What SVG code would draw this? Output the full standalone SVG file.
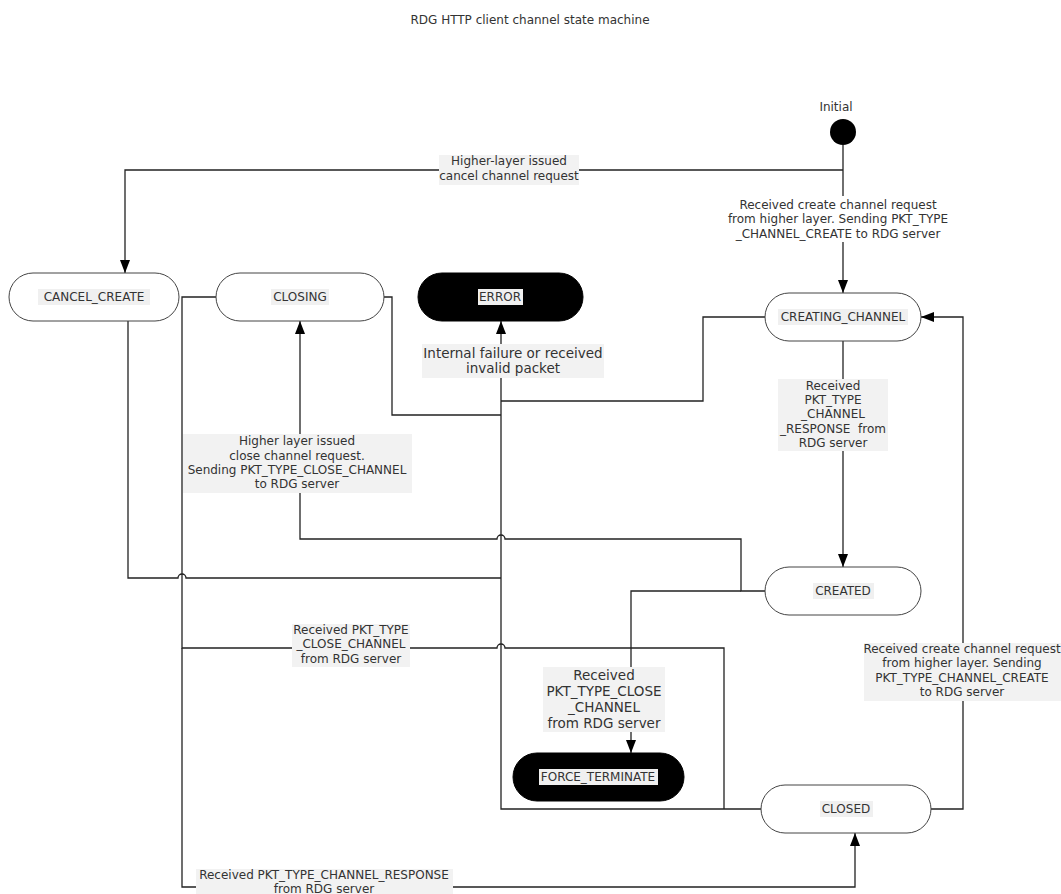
<svg xmlns="http://www.w3.org/2000/svg" width="1061" height="894" viewBox="0 0 1061 894">
<style>
text{font-family:"DejaVu Sans","Verdana",sans-serif;fill:#333;text-anchor:middle}
.t{font-size:12px}
.tl{font-size:13.5px}
.node{fill:#fff;stroke:#444;stroke-width:1}
.blk{fill:#000;stroke:#000;stroke-width:1}
.nbg{fill:#f0f0f0}
.lbg{fill:#f2f2f2}
.wbg{fill:#fff}
.c{fill:none;stroke:#222;stroke-width:1.3}
</style>
<defs>
<marker id="arr" markerUnits="userSpaceOnUse" markerWidth="10" markerHeight="13" refX="5" refY="13" orient="auto-start-reverse" viewBox="0 0 10 13">
<path d="M0,0 L10,0 L5,13 z" fill="#000"/>
</marker>
<marker id="ah" markerUnits="userSpaceOnUse" viewBox="0 0 13 10" markerWidth="13" markerHeight="10" refX="13" refY="5" orient="auto">
<path d="M0,0 L13,5 L0,10 z" fill="#000"/>
</marker>
</defs>
<rect width="1061" height="894" fill="#fff"/>
<text class="t" x="530" y="24">RDG HTTP client channel state machine</text>

<g id="connectors">
<path class="c" d="M843,170 H125 V273" marker-end="url(#ah)"/>
<path class="c" d="M843,145 V293" marker-end="url(#ah)"/>
<path class="c" d="M843,341 V567" marker-end="url(#ah)"/>
<path class="c" d="M765,591 H741 V539 H505 A4,4 0 0 0 497,539 H300 V321" marker-end="url(#ah)"/>
<path class="c" d="M741,591 H631 V753" marker-end="url(#ah)"/>
<path class="c" d="M384,297 H392 V415 H501"/>
<path class="c" d="M765,317 H703 V401 H501"/>
<path class="c" d="M128,321 V578 H178 A4,4 0 0 1 186,578 H501"/>
<path class="c" d="M761,809 H501 V321" marker-end="url(#ah)"/>
<path class="c" d="M216,297 H182 V648 H497 A4,4 0 0 1 505,648 H724 V809"/>
<path class="c" d="M182,648 V887 H855 V833" marker-end="url(#ah)"/>
<path class="c" d="M931,809 H963 V317 H921" marker-end="url(#ah)"/>
</g>

<g id="label-cancel">
<rect class="lbg" x="439" y="155" width="140" height="30"/>
<text class="t" x="509" y="165">Higher-layer issued</text>
<text class="t" x="509" y="180">cancel channel request</text>
</g>
<g id="label-create">
<rect class="wbg" x="728" y="196" width="220" height="46"/>
<text class="t" x="838" y="209">Received create channel request</text>
<text class="t" x="838" y="223">from higher layer. Sending PKT_TYPE</text>
<text class="t" x="838" y="238">_CHANNEL_CREATE to RDG server</text>
</g>
<g id="label-error">
<rect class="lbg" x="422" y="344" width="182" height="34"/>
<text class="tl" x="513" y="358">Internal failure or received</text>
<text class="tl" x="513" y="373">invalid packet</text>
</g>
<g id="label-response">
<rect class="lbg" x="778" y="379" width="110" height="72"/>
<text class="t" x="833" y="390">Received</text>
<text class="t" x="833" y="404">PKT_TYPE</text>
<text class="t" x="833" y="418">_CHANNEL</text>
<text class="t" x="833" y="433" xml:space="preserve">_RESPONSE  from</text>
<text class="t" x="833" y="447">RDG server</text>
</g>
<g id="label-close">
<rect class="lbg" x="183" y="434" width="229" height="59"/>
<text class="t" x="297" y="445">Higher layer issued</text>
<text class="t" x="297" y="460">close channel request.</text>
<text class="t" x="297" y="474">Sending PKT_TYPE_CLOSE_CHANNEL</text>
<text class="t" x="297" y="488">to RDG server</text>
</g>
<g id="label-closech">
<rect class="lbg" x="292" y="624" width="118" height="43"/>
<text class="t" x="351" y="634">Received PKT_TYPE</text>
<text class="t" x="351" y="648">_CLOSE_CHANNEL</text>
<text class="t" x="351" y="663">from RDG server</text>
</g>
<g id="label-force">
<rect class="lbg" x="543" y="667" width="122" height="65"/>
<text class="tl" x="604" y="680">Received</text>
<text class="tl" x="604" y="696">PKT_TYPE_CLOSE</text>
<text class="tl" x="604" y="712">_CHANNEL</text>
<text class="tl" x="604" y="728">from RDG server</text>
</g>
<g id="label-recreate">
<rect class="lbg" x="864" y="643" width="197" height="58"/>
<text class="t" x="962" y="653">Received create channel request</text>
<text class="t" x="962" y="667">from higher layer. Sending</text>
<text class="t" x="962" y="682">PKT_TYPE_CHANNEL_CREATE</text>
<text class="t" x="962" y="696">to RDG server</text>
</g>
<g id="label-chresp">
<rect class="lbg" x="196" y="869" width="257" height="30"/>
<text class="t" x="324" y="879">Received PKT_TYPE_CHANNEL_RESPONSE</text>
<text class="t" x="324" y="893">from RDG server</text>
</g>

<g id="initial">
<text class="t" x="836" y="111">Initial</text>
<circle cx="843" cy="132" r="13" fill="#000"/>
</g>
<g id="cancel_create">
<rect class="node" x="9" y="273" width="170" height="48" rx="24"/>
<rect class="nbg" x="38" y="289" width="112" height="16"/>
<text class="t" x="94" y="301">CANCEL_CREATE</text>
</g>
<g id="closing">
<rect class="node" x="216" y="273" width="168" height="48" rx="24"/>
<rect class="nbg" x="271" y="289" width="58" height="16"/>
<text class="t" x="300" y="301">CLOSING</text>
</g>
<g id="error">
<rect class="blk" x="418" y="273" width="165" height="48" rx="24"/>
<rect class="nbg" x="478" y="289" width="45" height="16"/>
<text class="t" x="500" y="301">ERROR</text>
</g>
<g id="creating_channel">
<rect class="node" x="765" y="293" width="156" height="48" rx="24"/>
<rect class="nbg" x="778" y="309" width="130" height="16"/>
<text class="t" x="843" y="321">CREATING_CHANNEL</text>
</g>
<g id="created">
<rect class="node" x="765" y="567" width="156" height="48" rx="24"/>
<rect class="nbg" x="813" y="583" width="61" height="16"/>
<text class="t" x="843" y="595">CREATED</text>
</g>
<g id="force_terminate">
<rect class="blk" x="513" y="753" width="171" height="48" rx="24"/>
<rect class="nbg" x="539" y="769" width="119" height="16"/>
<text class="t" x="598" y="781">FORCE_TERMINATE</text>
</g>
<g id="closed">
<rect class="node" x="761" y="785" width="170" height="48" rx="24"/>
<rect class="nbg" x="820" y="801" width="53" height="16"/>
<text class="t" x="846" y="813">CLOSED</text>
</g>
</svg>
